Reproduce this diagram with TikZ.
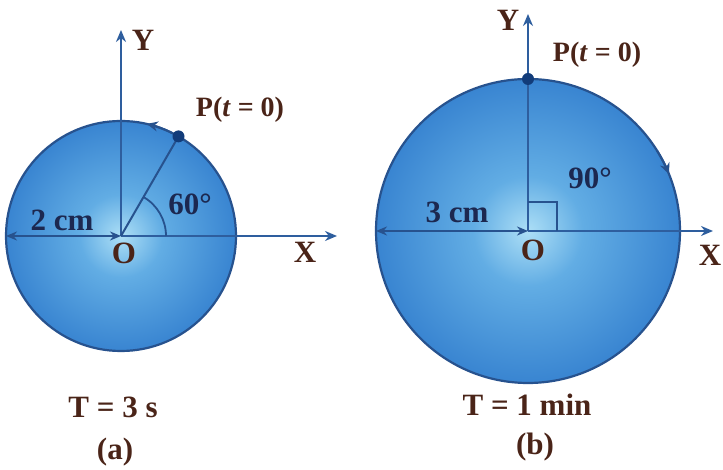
\documentclass[tikz,border=0pt]{standalone}
\usepackage{fontspec}
\setmainfont{Liberation Serif}
\usepackage{xcolor}
\usepackage{tikz}
\usetikzlibrary{positioning,arrows.meta}
\definecolor{AxisBlue}{HTML}{2E5E9E}
\definecolor{RimBlue}{HTML}{27528E}
\definecolor{DotBlue}{HTML}{123C7A}
\definecolor{LabelBrown}{HTML}{4A2418}
\definecolor{LabelNavy}{HTML}{1C2850}
\definecolor{BallIn}{HTML}{ADDFF6}
\definecolor{BallMid}{HTML}{62ADE4}
\definecolor{BallOut}{HTML}{2C78CB}
\pgfdeclareradialshading{ballshade}{\pgfpoint{0bp}{0bp}}{color(0bp)=(BallIn); color(9bp)=(BallMid); color(30bp)=(BallOut); color(50bp)=(BallOut)}

\begin{document}
\begin{tikzpicture}[x=1pt, y=1pt,
  every node/.style={font=\fontsize{31}{34}\selectfont\bfseries, text=LabelBrown},
  axis/.style={AxisBlue, line width=2pt, -{Stealth[length=12pt,width=10pt]}},
  span/.style={RimBlue, line width=2.2pt, {Stealth[length=11pt,width=9pt]}-{Stealth[length=11pt,width=9pt]}},
  ball/.style={draw=RimBlue, line width=2.2pt, shading=ballshade},
  turn/.style={RimBlue, line width=2pt, -{Stealth[length=11pt,width=10pt]}},
  navy/.style={text=LabelNavy},
  small/.style={font=\fontsize{28}{30}\selectfont\bfseries}]
  \useasboundingbox (0,0) rectangle (723,470);

  % (a)
  \coordinate (oa) at (121,234);
  \coordinate (ya) at (121,440);
  \coordinate (xa) at (337,234);
  \coordinate (la) at (6,234);
  \coordinate (pa) at ([shift={(60:115)}]oa);
  \shade[ball] (oa) circle[radius=115];
  \draw[axis] (oa) -- (ya);
  \draw[axis] (oa) -- (xa);
  \draw[span] (oa) -- (la);
  \draw[RimBlue, line width=2pt] (oa) -- (pa);
  \draw[RimBlue, line width=1.8pt] ([shift={(0:45)}]oa) arc[start angle=0, end angle=60, radius=45];
  \draw[turn] ([shift={(64:115)}]oa) arc[start angle=64, end angle=77, radius=115];
  \fill[DotBlue] (pa) circle[radius=6];
  \node (ylaba) at (143,430) {Y};
  \node (xlaba) at (305,218) {X};
  \node (olaba) at (124,217) {O};
  \node[navy] (ra) at (62,250) {2 cm};
  \node[navy] (anga) at (190,266) {60°};
  \node[small] (plaba) at (240,360) {P(\textit{t} = 0)};
  \node (ta) at (113,63) {T = 3 s};
  \node (capa) at (115,18) {(a)};

  % (b)
  \coordinate (ob) at (528,239);
  \coordinate (yb) at (528,456);
  \coordinate (xb) at (713,239);
  \coordinate (lb) at (376,239);
  \coordinate (pb) at ([shift={(90:152)}]ob);
  \shade[ball] (ob) circle[radius=152];
  \draw[axis] (ob) -- (yb);
  \draw[axis] (ob) -- (xb);
  \draw[span] (ob) -- (lb);
  \draw[RimBlue, line width=1.8pt] ([yshift=29pt]ob) -| ([xshift=29pt]ob);
  \draw[turn] ([shift={(32:152)}]ob) arc[start angle=32, end angle=22, radius=152];
  \fill[DotBlue] (pb) circle[radius=6];
  \node (ylabb) at (508,450) {Y};
  \node (xlabb) at (710,215) {X};
  \node (olabb) at (533,220) {O};
  \node[navy] (rb) at (457,258) {3 cm};
  \node[navy] (angb) at (590,292) {90°};
  \node[small] (plabb) at (597,415) {P(\textit{t} = 0)};
  \node (tb) at (527,65) {T = 1 min};
  \node (capb) at (535,23) {(b)};
\end{tikzpicture}
\end{document}
